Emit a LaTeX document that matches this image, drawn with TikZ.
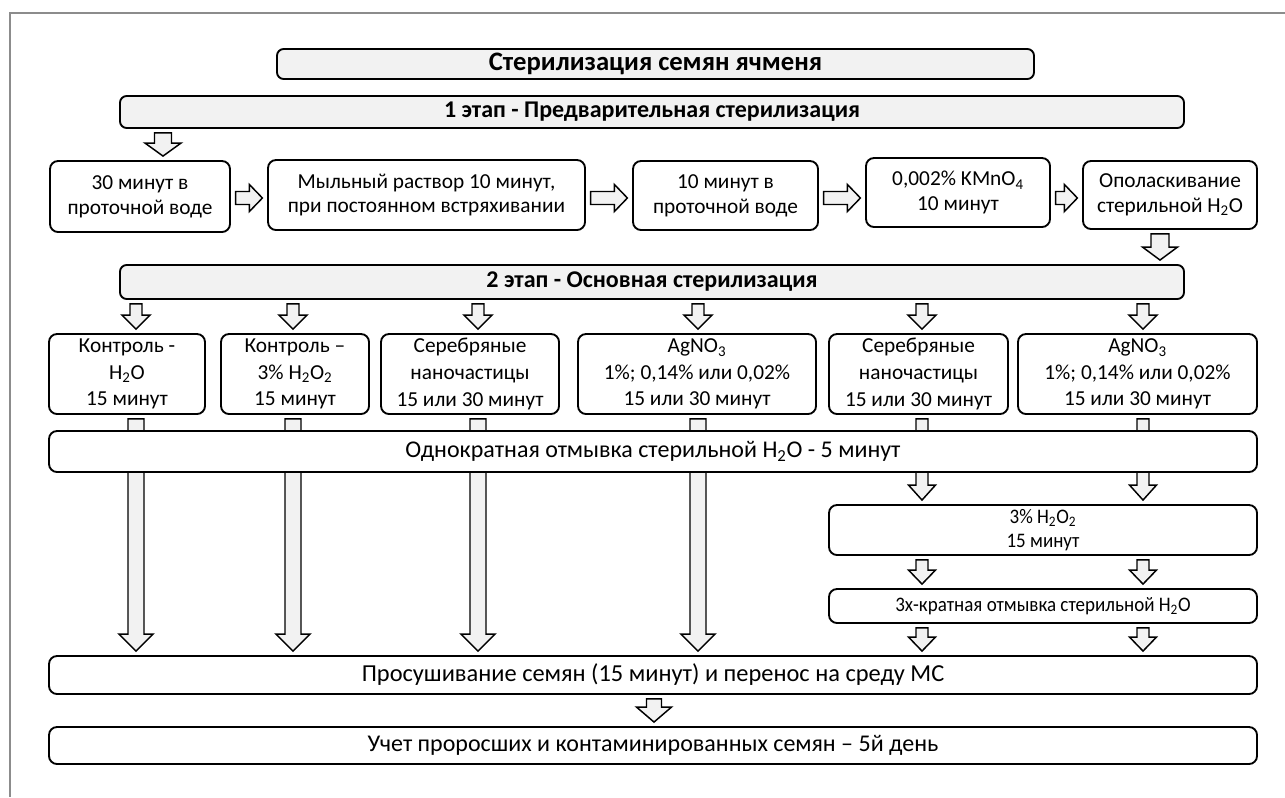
\documentclass[tikz,border=0pt]{standalone}
\usepackage{fontspec}
\setmainfont{Carlito}
\newfontfamily\narrowfont[FakeStretch=0.92]{Carlito}
\usetikzlibrary{calc}
\pgfdeclarelayer{bg}
\pgfsetlayers{bg,main}
\definecolor{boxfill}{HTML}{F2F2F2}
\definecolor{framegray}{HTML}{8C8C8C}
\newcommand\lowidx[1]{\textsubscript{#1}}
\tikzset{
  box/.style={draw=black, line width=1.4pt, rounded corners=6pt, fill=white, inner sep=0pt, align=center,
    font=\fontsize{16}{18.5}\selectfont},
  tallbox/.style={box, font=\fontsize{16}{20}\selectfont},
  barbox/.style={box, font=\fontsize{18}{21}\selectfont},
  widebarbox/.style={box, font=\fontsize{18.3}{21}\selectfont},
  narrowbox/.style={box, font=\narrowfont\fontsize{15.5}{17.5}\selectfont},
  headbox/.style={box, fill=boxfill, rounded corners=5pt, font=\fontsize{20}{24}\selectfont\bfseries},
  stagebox/.style={headbox, font=\fontsize{18}{22}\selectfont\bfseries},
  barrow/.style={draw=black, line width=1.1pt, fill=boxfill, line join=miter},
}
% box: style, name, x1, y1, x2, y2, text (pixel units)
\newcommand\bx[7]{\node[#1, minimum width={(#5-#3)*0.75pt}, minimum height={(#6-#4)*0.75pt}] (#2) at ({(#3+#5)/2},{(#4+#6)/2}) {#7};}
% down block arrow: from, to, column coordinate, shaft half, head half, head length (px)
\newcommand\darr[6]{\draw[barrow] let \p1=(#1.south -| #3), \p2=(#2.north -| #3) in
  (\x1-#4*0.75pt,\y1-3pt) -- (\x1+#4*0.75pt,\y1-3pt) -- (\x1+#4*0.75pt,\y2+3pt+#6*0.75pt)
  -- (\x1+#5*0.75pt,\y2+3pt+#6*0.75pt) -- (\x1,\y2+3pt) -- (\x1-#5*0.75pt,\y2+3pt+#6*0.75pt)
  -- (\x1-#4*0.75pt,\y2+3pt+#6*0.75pt) -- cycle;}
% right block arrow: from, to, row coordinate, shaft half, head half, head length (px)
\newcommand\rarr[6]{\draw[barrow] let \p1=(#1.east |- #3), \p2=(#2.west |- #3) in
  (\x1+3.5pt,\y1+#4*0.75pt) -- (\x2-3.5pt-#6*0.75pt,\y1+#4*0.75pt) -- (\x2-3.5pt-#6*0.75pt,\y1+#5*0.75pt)
  -- (\x2-3.5pt,\y1) -- (\x2-3.5pt-#6*0.75pt,\y1-#5*0.75pt) -- (\x2-3.5pt-#6*0.75pt,\y1-#4*0.75pt)
  -- (\x1+3.5pt,\y1-#4*0.75pt) -- cycle;}
\begin{document}
\begin{tikzpicture}[x=0.75pt,y=-0.75pt]
\useasboundingbox (0,0) rectangle (1285,797);
\draw[framegray, line width=1.3pt] (1285,13) -- (10,13) -- (10,797);

\bx{headbox}{T}{277}{49}{1034}{79}{Стерилизация семян ячменя}
\bx{stagebox}{S1}{120}{96}{1184}{128}{1 этап - Предварительная стерилизация}

\bx{box}{B1}{50}{161}{230}{232}{30 минут в\\проточной воде}
\bx{box}{B2}{268}{160}{585}{230}{Мыльный раствор 10 минут,\\при постоянном встряхивании}
\bx{box}{B3}{633}{161}{818}{230}{10 минут в\\проточной воде}
\bx{box}{B4}{866}{158}{1050}{227}{0,002\% KMnO\lowidx{4}\\10 минут}
\bx{box}{B5}{1083}{161}{1257}{229}{Ополаскивание\\стерильной H\lowidx{2}O}

\bx{stagebox}{S2}{120}{265}{1184}{299}{2 этап - Основная стерилизация}

\bx{tallbox}{C1}{49}{334}{205}{414}{Контроль -\\H\lowidx{2}O\\15 минут}
\bx{tallbox}{C2}{221}{334}{369}{414}{Контроль –\\3\% H\lowidx{2}O\lowidx{2}\\15 минут}
\bx{tallbox}{C3}{381}{334}{559}{414}{Серебряные\\наночастицы\\15 или 30 минут}
\bx{tallbox}{C4}{578}{334}{816}{414}{AgNO\lowidx{3}\\1\%; 0,14\% или 0,02\%\\15 или 30 минут}
\bx{tallbox}{C5}{829}{334}{1008}{414}{Серебряные\\наночастицы\\15 или 30 минут}
\bx{tallbox}{C6}{1018}{334}{1257}{414}{AgNO\lowidx{3}\\1\%; 0,14\% или 0,02\%\\15 или 30 минут}

\bx{barbox}{W}{49}{431}{1257}{472}{Однократная отмывка стерильной H\lowidx{2}O - 5 минут}
\bx{narrowbox}{H}{829}{505}{1257}{555}{3\% H\lowidx{2}O\lowidx{2}\\15 минут}
\bx{narrowbox}{X}{829}{589}{1257}{623}{3х-кратная отмывка стерильной H\lowidx{2}O}
\bx{widebarbox}{D}{49}{656}{1257}{694}{Просушивание семян (15 минут) и перенос на среду МС}
\bx{barbox}{U}{49}{727}{1257}{764}{Учет проросших и контаминированных семян – 5й день}

\coordinate (k0) at (163,0);
\coordinate (k5) at (1160,0);
\coordinate (k1) at (136,0);
\coordinate (k2) at (293,0);
\coordinate (k3) at (478,0);
\coordinate (k4) at (698,0);
\coordinate (k6) at (922,0);
\coordinate (k7) at (1143,0);
\coordinate (kd) at (654,0);
\coordinate (r1) at (0,198);

\begin{pgfonlayer}{bg}
\darr{S1}{B1}{k0}{8.5}{18}{13}
\rarr{B1}{B2}{r1}{6.5}{13.5}{13}
\rarr{B2}{B3}{r1}{6.5}{13.5}{13}
\rarr{B3}{B4}{r1}{6.5}{13.5}{13}
\rarr{B4}{B5}{r1}{6.5}{13.5}{13}
\darr{B5}{S2}{k5}{9}{17.5}{13}
\darr{S2}{C1}{k1}{6}{14}{14}
\darr{S2}{C2}{k2}{6}{14}{14}
\darr{S2}{C3}{k3}{6}{14}{14}
\darr{S2}{C4}{k4}{6}{14}{14}
\darr{S2}{C5}{k6}{6}{14}{14}
\darr{S2}{C6}{k7}{6}{14}{14}
\darr{C1}{D}{k1}{8}{17}{17}
\darr{C2}{D}{k2}{8}{17}{17}
\darr{C3}{D}{k3}{8}{17}{17}
\darr{C4}{D}{k4}{8}{17}{17}
\darr{C5}{H}{k6}{6}{13.5}{15}
\darr{C6}{H}{k7}{6}{13.5}{15}
\darr{H}{X}{k6}{6}{13.5}{14}
\darr{H}{X}{k7}{6}{13.5}{14}
\darr{X}{D}{k6}{6}{13.5}{14}
\darr{X}{D}{k7}{6}{13.5}{14}
\darr{D}{U}{kd}{7.5}{17.5}{15}
\end{pgfonlayer}
\end{tikzpicture}
\end{document}
